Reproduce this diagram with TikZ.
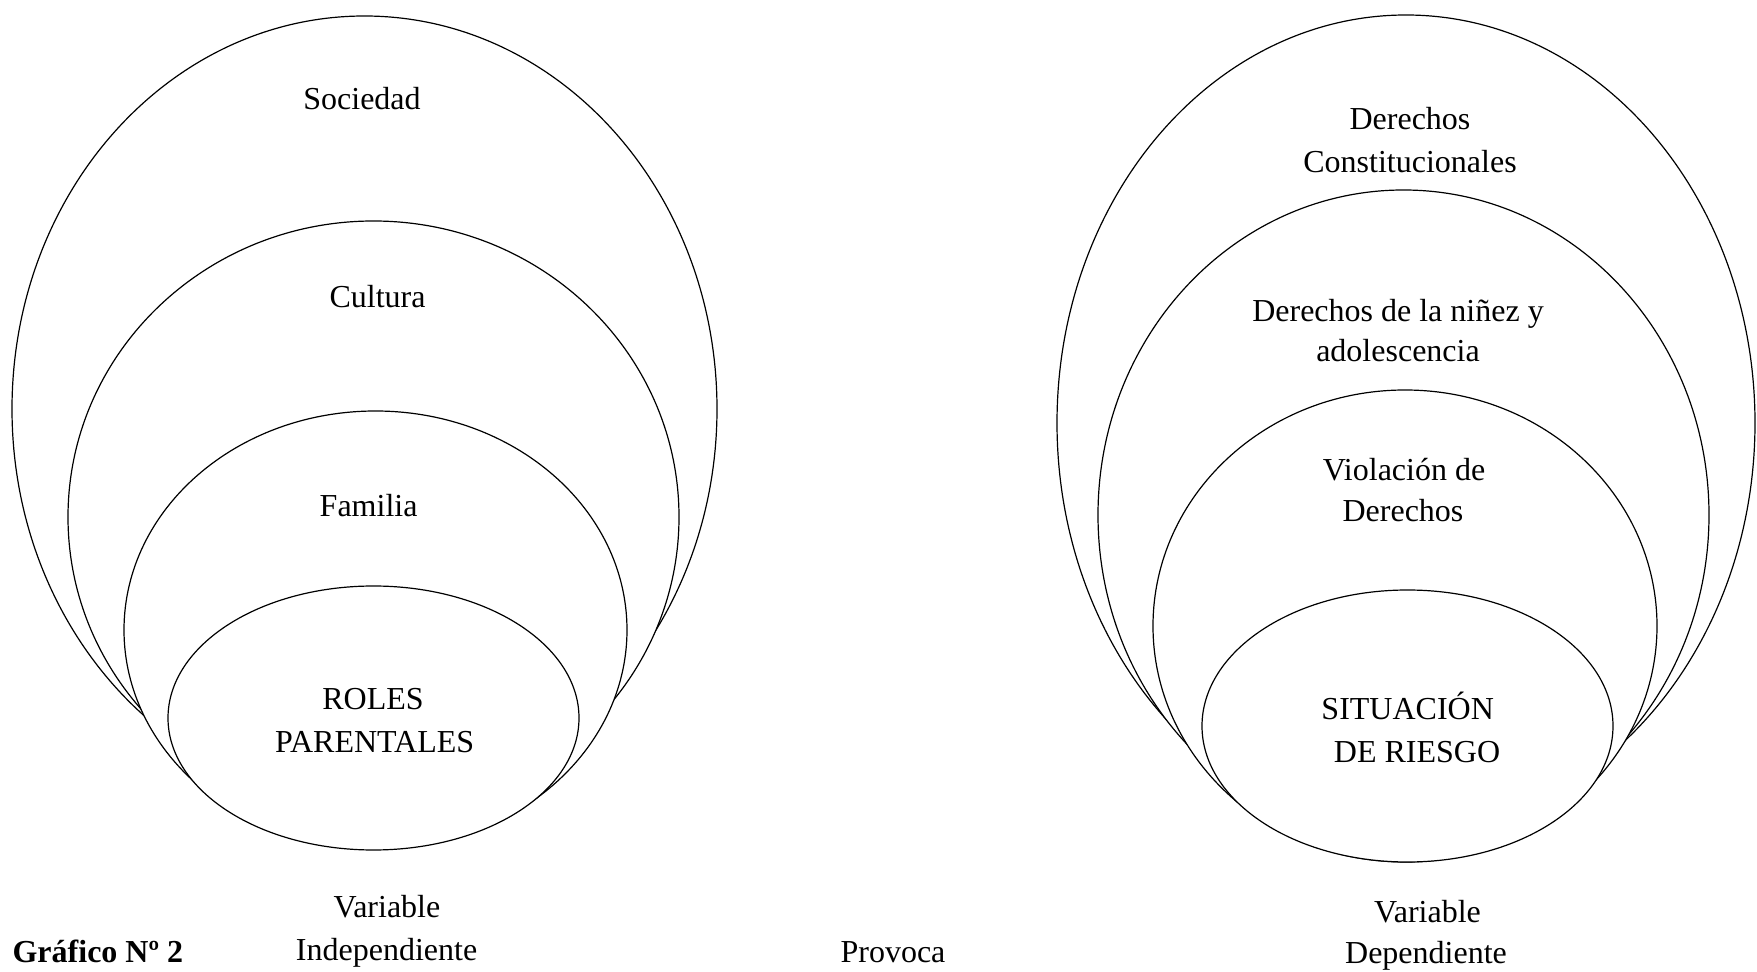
\documentclass[tikz,border=0pt]{standalone}
\usepackage{fontspec}
\setmainfont{Liberation Serif}
\begin{document}
\begin{tikzpicture}[x=0.5pt,y=-0.5pt,line width=0.6pt]
\tikzset{
  ring/.style={draw=black,fill=white},
  lbl/.style={font=\fontsize{16}{21}\selectfont,anchor=base,inner sep=0pt},
  figcaption/.style={font=\fontsize{16}{21}\selectfont\bfseries,anchor=base west,inner sep=0pt}
}
\useasboundingbox (0,0) rectangle (1757,972);
\fill[white] (0,0) rectangle (1757,972);
% left group
\path[ring] (364.5,409) ellipse [x radius=352.5, y radius=393];
\path[ring] (373.5,517) ellipse [x radius=305.5, y radius=296];
\path[ring] (375.5,630) ellipse [x radius=251.5, y radius=219];
\path[ring] (373.5,718) ellipse [x radius=205.5, y radius=132];
% right group
\path[ring] (1406,423) ellipse [x radius=349, y radius=408];
\path[ring] (1403.5,515) ellipse [x radius=305.5, y radius=325];
\path[ring] (1405,626) ellipse [x radius=252, y radius=236];
\path[ring] (1407.5,726) ellipse [x radius=205.5, y radius=136];
% left labels
\node[lbl] (soc) at (362,110) {Sociedad};
\node[lbl] (cul) at (377.6,308) {Cultura};
\node[lbl] (fam) at (368.6,516.5) {Familia};
\node[lbl] (rol1) at (373,709.3) {ROLES};
\node[lbl] (rol2) at (374.7,752.7) {PARENTALES};
\node[lbl] (vi1) at (387,917.6) {Variable};
\node[lbl] (vi2) at (386.6,960) {Independiente};
\node[figcaption] (graf) at (12,962) {Gráfico Nº 2};
\node[lbl] (prov) at (893,962) {Provoca};
% right labels
\node[lbl] (dc1) at (1410,130) {Derechos};
\node[lbl] (dc2) at (1410,172.7) {Constitucionales};
\node[lbl] (dn1) at (1398,321.7) {Derechos de la niñez y};
\node[lbl] (dn2) at (1398,361.7) {adolescencia};
\node[lbl] (vd1) at (1404,480.6) {Violación de};
\node[lbl] (vd2) at (1403,522) {Derechos};
\node[lbl] (sr1) at (1407.7,719.3) {SITUACIÓN};
\node[lbl] (sr2) at (1417,762.7) {DE RIESGO};
\node[lbl] (vdp1) at (1427.5,922) {Variable};
\node[lbl] (vdp2) at (1426,963) {Dependiente};
\end{tikzpicture}
\end{document}
